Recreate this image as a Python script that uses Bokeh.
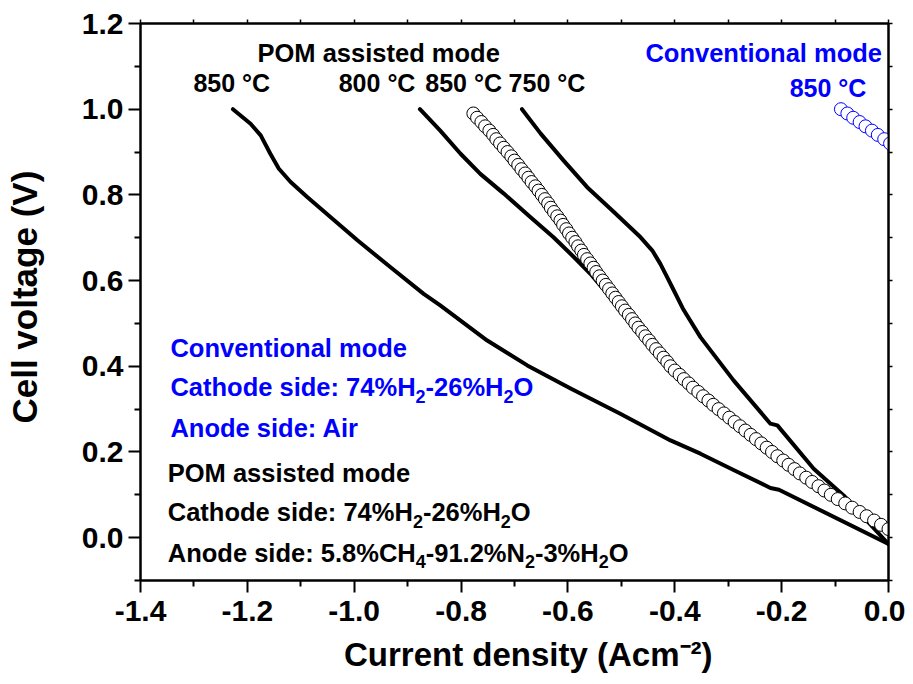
from bokeh.plotting import figure
from bokeh.models import (Range1d, FixedTicker, LinearAxis, Label,
                          NumeralTickFormatter, CustomJSTickFormatter)
from bokeh.embed import file_html
from bokeh.resources import INLINE

# ---------------- data ----------------
# POM assisted mode, 850 C (solid)
pom850_i = [-1.227, -1.194, -1.175, -1.157, -1.141, -1.119, -1.088, -1.044, -0.994,
            -0.932, -0.870, -0.839, -0.751, -0.676, -0.595, -0.502, -0.408, -0.352,
            -0.290, -0.221, -0.205, 0.0]
pom850_v = [1.0, 0.966, 0.939, 0.896, 0.861, 0.830, 0.795, 0.748, 0.694,
            0.631, 0.569, 0.542, 0.460, 0.402, 0.348, 0.289, 0.227, 0.196,
            0.158, 0.116, 0.112, -0.015]

# POM assisted mode, 800 C (solid)
pom800_i = [-0.877, -0.839, -0.801, -0.764, -0.720, -0.670, -0.627, -0.589, -0.558,
            -0.537, -0.508, -0.474, -0.435, -0.404, -0.366, -0.318, -0.268, -0.218,
            -0.166, -0.108, -0.041, 0.0]
pom800_v = [1.0, 0.950, 0.896, 0.849, 0.803, 0.748, 0.701, 0.655, 0.616,
            0.585, 0.545, 0.495, 0.440, 0.395, 0.350, 0.300, 0.250, 0.200,
            0.150, 0.100, 0.050, 0.020]

# POM assisted mode, 750 C (solid)
pom750_i = [-0.686, -0.651, -0.608, -0.564, -0.514, -0.464, -0.442, -0.427, -0.416,
            -0.405, -0.385, -0.352, -0.290, -0.221, -0.208, -0.140, -0.084, 0.0]
pom750_v = [1.0, 0.943, 0.880, 0.818, 0.760, 0.701, 0.670, 0.639, 0.612,
            0.585, 0.535, 0.468, 0.367, 0.266, 0.262, 0.161, 0.0985, -0.015]

# POM assisted mode, 850 C (open black circles)
circ_v = [0.99, 0.98, 0.97, 0.96, 0.95, 0.94, 0.93, 0.92, 0.91, 0.90,
          0.89, 0.88, 0.87, 0.86, 0.85, 0.84, 0.83, 0.82, 0.81, 0.80,
          0.79, 0.78, 0.77, 0.76, 0.75, 0.74, 0.73, 0.72, 0.71, 0.70,
          0.69, 0.68, 0.67, 0.66, 0.65, 0.64, 0.63, 0.62, 0.61, 0.60,
          0.59, 0.58, 0.57, 0.56, 0.55, 0.54, 0.53, 0.52, 0.51, 0.50,
          0.49, 0.48, 0.47, 0.46, 0.45, 0.44, 0.43, 0.42, 0.41, 0.40,
          0.39, 0.38, 0.37, 0.36, 0.35, 0.34, 0.33, 0.32, 0.31, 0.30,
          0.29, 0.28, 0.27, 0.26, 0.25, 0.24, 0.23, 0.22, 0.21, 0.20,
          0.19, 0.18, 0.17, 0.16, 0.15, 0.14, 0.13, 0.12, 0.11, 0.10,
          0.09, 0.08, 0.07, 0.06, 0.05, 0.04, 0.03, 0.02]
circ_i = [-0.777, -0.770, -0.762, -0.755, -0.747, -0.740, -0.734, -0.727, -0.720, -0.713,
          -0.706, -0.700, -0.693, -0.687, -0.680, -0.674, -0.668, -0.661, -0.655, -0.649,
          -0.643, -0.637, -0.632, -0.626, -0.620, -0.614, -0.609, -0.603, -0.598, -0.592,
          -0.586, -0.581, -0.575, -0.570, -0.564, -0.558, -0.552, -0.547, -0.541, -0.535,
          -0.529, -0.523, -0.517, -0.511, -0.505, -0.499, -0.493, -0.486, -0.480, -0.474,
          -0.468, -0.461, -0.455, -0.448, -0.442, -0.435, -0.428, -0.421, -0.414, -0.408,
          -0.400, -0.391, -0.383, -0.374, -0.366, -0.356, -0.347, -0.337, -0.328, -0.318,
          -0.308, -0.298, -0.288, -0.278, -0.268, -0.258, -0.248, -0.238, -0.228, -0.218,
          -0.208, -0.197, -0.187, -0.176, -0.166, -0.154, -0.143, -0.131, -0.120, -0.108,
          -0.095, -0.081, -0.068, -0.054, -0.041, -0.027, -0.014, 0.000]

# Conventional mode, 850 C (open blue circles)
conv_v = [1.00, 0.99, 0.98, 0.97, 0.96, 0.95, 0.94, 0.93, 0.92]
conv_i = [-0.089, -0.077, -0.066, -0.054, -0.043, -0.031, -0.020, -0.008, 0.003]

x_major = [-1.4, -1.2, -1.0, -0.8, -0.6, -0.4, -0.2, 0.0]
x_minor = [-1.3, -1.1, -0.9, -0.7, -0.5, -0.3, -0.1]
y_major = [0.0, 0.2, 0.4, 0.6, 0.8, 1.0, 1.2]
y_minor = [-0.1, 0.1, 0.3, 0.5, 0.7, 0.9, 1.1]
x_all = [-1.4, -1.3, -1.2, -1.1, -1.0, -0.9, -0.8, -0.7, -0.6, -0.5, -0.4, -0.3, -0.2, -0.1, 0.0]
y_all = [-0.1, 0.0, 0.1, 0.2, 0.3, 0.4, 0.5, 0.6, 0.7, 0.8, 0.9, 1.0, 1.1, 1.2]

FONT = "Liberation Sans"
BLUE = "#0000ff"

p = figure(width=905, height=676, output_backend="svg", toolbar_location=None,
           x_range=Range1d(-1.4, 0.0), y_range=Range1d(-0.1, 1.2),
           min_border_left=140, min_border_right=17, min_border_top=23,
           min_border_bottom=96)
p.grid.visible = False
p.outline_line_color = "black"
p.outline_line_width = 2
p.background_fill_color = "white"
p.border_fill_color = "white"

# lines
for xs, ys in [(pom850_i, pom850_v), (pom800_i, pom800_v), (pom750_i, pom750_v)]:
    p.line(xs, ys, line_color="black", line_width=4, line_join="round", line_cap="round")

# circles
p.scatter(circ_i, circ_v, marker="circle", size=13, line_color="black",
          fill_color="white", line_width=1)
p.scatter(conv_i, conv_v, marker="circle", size=13, line_color=BLUE,
          fill_color="white", line_width=1)

# axes styling
def style_axis(ax, label_size):
    ax.axis_line_width = 2
    ax.axis_line_color = "black"
    ax.major_tick_line_width = 2
    ax.minor_tick_line_width = 2
    ax.major_tick_in = 0
    ax.minor_tick_in = 0
    ax.major_label_text_font = FONT
    ax.major_label_text_font_style = "bold"
    ax.major_label_text_font_size = "30px"
    ax.major_label_text_color = "black"
    ax.axis_label_text_font = FONT
    ax.axis_label_text_font_style = "bold"
    ax.axis_label_text_font_size = label_size
    ax.axis_label_text_color = "black"

xa = p.xaxis[0]
ya = p.yaxis[0]
style_axis(xa, "33px")
style_axis(ya, "35px")
xa.ticker = FixedTicker(ticks=x_major, minor_ticks=x_minor)
ya.ticker = FixedTicker(ticks=y_major, minor_ticks=y_minor)
xa.formatter = NumeralTickFormatter(format="0.0")
ya.formatter = NumeralTickFormatter(format="0.0")
xa.major_tick_out = 12
xa.minor_tick_out = 6
ya.major_tick_out = 12
ya.minor_tick_out = 6
xa.major_label_standoff = 8
ya.major_label_standoff = 5
xa.axis_label = "\u00a0\u00a0\u00a0Current density (Acm\u207b\u00b2)"
ya.axis_label = "\u00a0Cell voltage (V)"
xa.axis_label_standoff = 12
ya.axis_label_standoff = 35

blank = CustomJSTickFormatter(code="return ''")
top = LinearAxis(ticker=FixedTicker(ticks=x_all, minor_ticks=[]), formatter=blank)
right = LinearAxis(ticker=FixedTicker(ticks=y_all, minor_ticks=[]), formatter=blank)
for ax in (top, right):
    ax.axis_line_width = 2
    ax.major_tick_line_width = 1.5
    ax.major_tick_out = 4
    ax.major_tick_in = 0
    ax.minor_tick_out = 0
    ax.major_label_standoff = 0
    ax.major_label_text_font_size = "1px"
p.add_layout(top, "above")
p.add_layout(right, "right")

# annotations
MAIN = 25.5
SUB = 18.0
# advance widths (per 1000 em) of Arial/Liberation Sans Bold
W = {" ": 278, "%": 889, "-": 333, ".": 278, ":": 333, "A": 722, "C": 722, "H": 722,
     "N": 722, "O": 778, "a": 556, "d": 611, "e": 556, "h": 611, "i": 278, "n": 611,
     "o": 611, "s": 556, "t": 333}
for dgt in "0123456789":
    W[dgt] = 556


def text_width(s, size):
    return sum(W.get(ch, 556) for ch in s) * size / 1000.0


def add_label(x, y, text, color="black", size=MAIN, x_offset=0.0):
    p.add_layout(Label(x=x, y=y, x_offset=x_offset, text=text, text_font=FONT,
                       text_font_style="bold", text_font_size=f"{size}px",
                       text_color=color, text_baseline="alphabetic", text_align="left"))


def rich_label(x, y, segments, color="black"):
    off = 0.0
    for txt, sub in segments:
        size = SUB if sub else MAIN
        yy = y - 0.021 if sub else y
        add_label(x, yy, txt, color, size, off)
        off += text_width(txt, size)


add_label(-1.181, 1.132, "POM assisted mode")
add_label(-1.301, 1.062, "850 \u00b0C", size=25)
add_label(-1.029, 1.062, "800 \u00b0C", size=25)
add_label(-0.867, 1.062, "850 \u00b0C", size=25)
add_label(-0.711, 1.062, "750 \u00b0C", size=25)
add_label(-0.455, 1.132, "Conventional mode", BLUE)
add_label(-0.185, 1.049, "850 \u00b0C", BLUE, size=25)

add_label(-1.344, 0.4415, "Conventional mode", BLUE)
rich_label(-1.344, 0.351, [("Cathode side: 74%H", False), ("2", True),
                           ("-26%H", False), ("2", True), ("O", False)], BLUE)
add_label(-1.344, 0.255, "Anode side: Air", BLUE)
add_label(-1.349, 0.152, "POM assisted mode")
rich_label(-1.349, 0.059, [("Cathode side: 74%H", False), ("2", True),
                           ("-26%H", False), ("2", True), ("O", False)])
rich_label(-1.349, -0.035, [("Anode side: 5.8%CH", False), ("4", True),
                            ("-91.2%N", False), ("2", True), ("-3%H", False),
                            ("2", True), ("O", False)])

open("out.html", "w").write(file_html(p, INLINE))
